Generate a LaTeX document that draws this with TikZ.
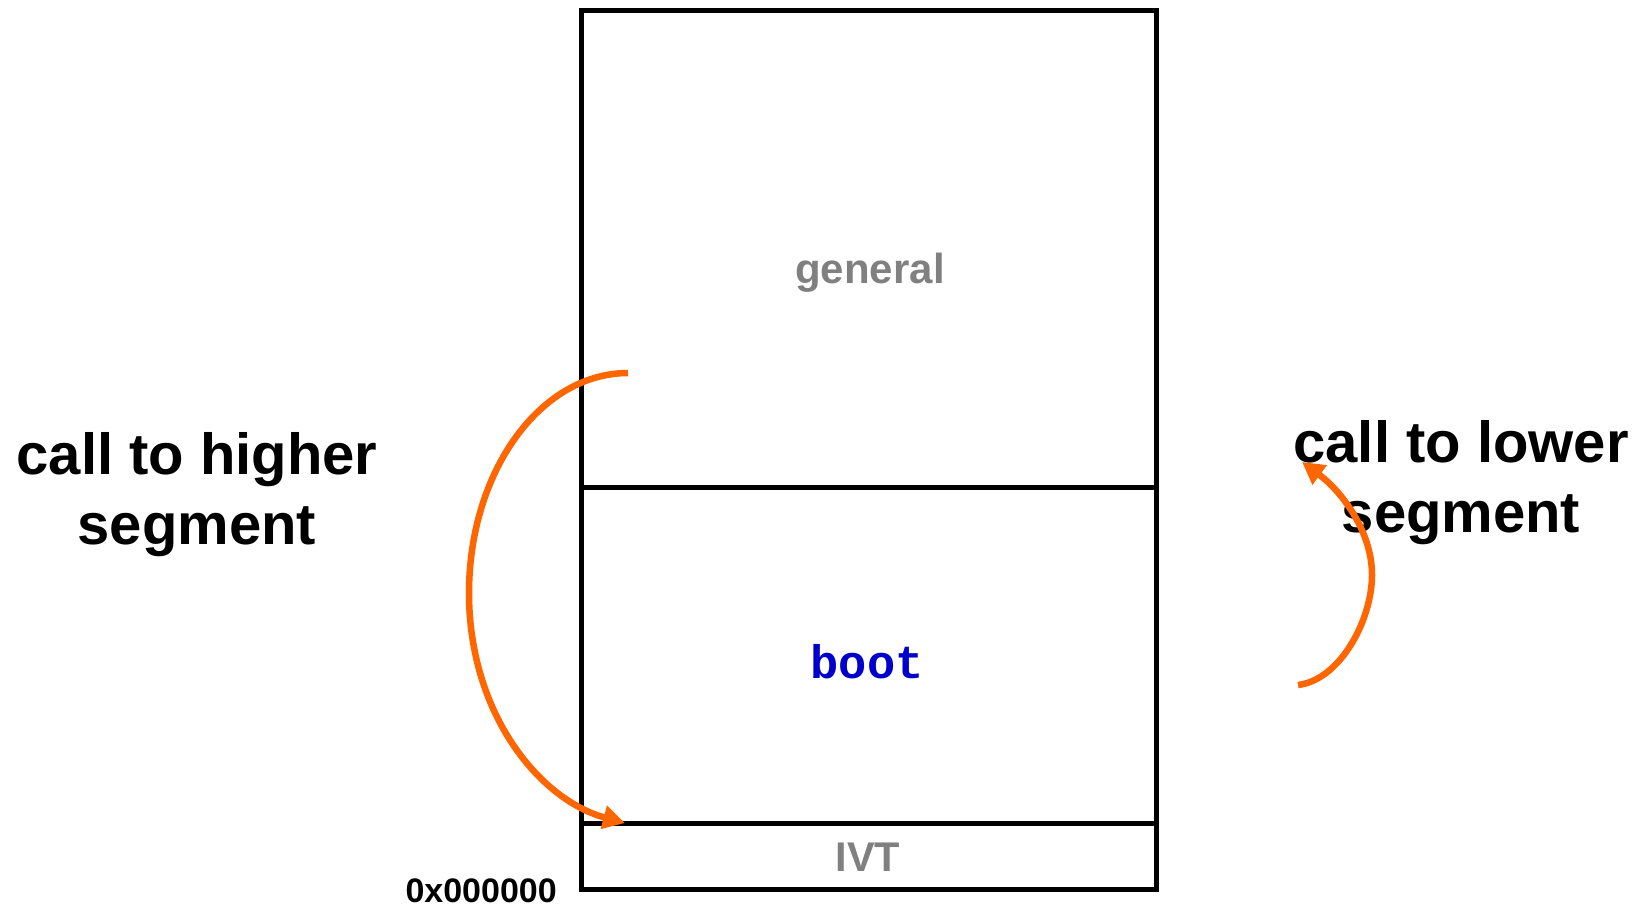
\documentclass[tikz,border=0pt]{standalone}
\usepackage{fontspec}
\setmainfont{Liberation Sans}
\newfontfamily\monofont{Liberation Mono}
\usetikzlibrary{arrows.meta}
\definecolor{callorange}{HTML}{FF6600}
\definecolor{labelgray}{HTML}{808080}
\definecolor{bootblue}{HTML}{0000CC}
\begin{document}
\begin{tikzpicture}[x=1pt,y=-1pt,
  memline/.style={draw=black,line width=4.5pt},
  callarrow/.style={draw=callorange,line width=6.5pt,
    -{Triangle[length=22pt,width=23pt]}},
  biglabel/.style={font=\bfseries\fontsize{58}{70}\selectfont,align=center,inner sep=0pt},
  seglabel/.style={font=\bfseries\fontsize{42}{50}\selectfont,text=labelgray,inner sep=0pt}]
  \useasboundingbox (0,0) rectangle (1637,908);

  % memory map: outer frame and segment boundaries
  \draw[memline] (581.5,10.5) rectangle (1156.5,889.5);
  \draw[memline] (581.5,487.6) -- (1156.5,487.6);
  \draw[memline] (581.5,823.7) -- (1156.5,823.7);

  % segment names
  \node[seglabel] (general) at (870,273) {general};
  \node[font=\monofont\bfseries\fontsize{47}{50}\selectfont,text=bootblue,inner sep=0pt] (boot) at (867,662) {boot};
  \node[seglabel,font=\bfseries\fontsize{41.5}{50}\selectfont] (ivt) at (868,857) {IVT};
  \node[font=\bfseries\fontsize{34}{40}\selectfont,inner sep=0pt,anchor=east] (addr) at (557,891) {0x000000};

  % side captions
  \node[biglabel] (higher) at (197,495) {call to higher\\segment};
  \node[biglabel] (lower) at (1461,483) {call to lower\\segment};

  % call arrows
  \coordinate (hiFrom) at (628,373);
  \coordinate (hiTo) at (625,823);
  \coordinate (loFrom) at (1298,685);
  \coordinate (loTo) at (1302,462);
  \draw[callarrow] (hiFrom) .. controls (540,373) and (469,472) .. (469,593)
    .. controls (469,714) and (540,800) .. (hiTo);
  \draw[callarrow] (loFrom) .. controls (1340,680) and (1372,620) .. (1372,575)
    .. controls (1372,530) and (1340,490) .. (loTo);
\end{tikzpicture}
\end{document}
